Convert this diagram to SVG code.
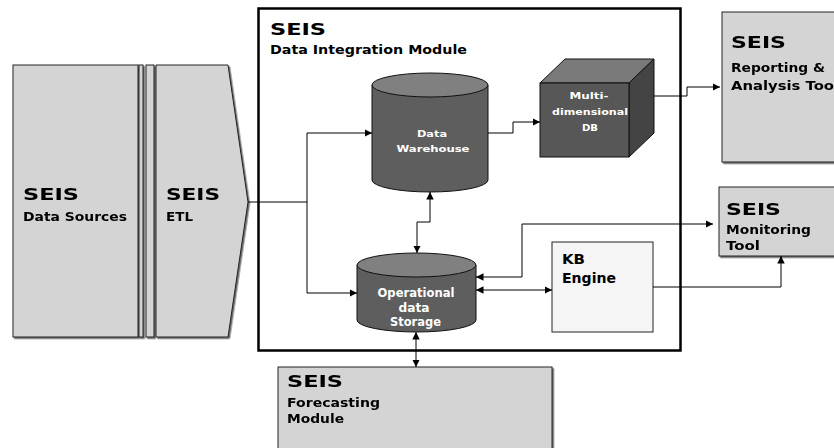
<svg xmlns="http://www.w3.org/2000/svg" width="834" height="448" viewBox="0 0 834 448">
  <defs>
    <marker id="arr" viewBox="0 0 10 10" refX="10" refY="5" markerWidth="7.5" markerHeight="7.5" markerUnits="userSpaceOnUse" orient="auto-start-reverse">
      <path d="M0,0 L10,5 L0,10 z" fill="#000"/>
    </marker>
    <filter id="shadow" x="-5%" y="-5%" width="115%" height="115%">
      <feDropShadow dx="1.5" dy="1.5" stdDeviation="0.6" flood-color="#444" flood-opacity="0.8"/>
    </filter>
  </defs>
  <style>
    text { font-family: "DejaVu Sans", "Liberation Sans", sans-serif; font-weight: bold; }
    .panel { fill: #d4d4d4; stroke: #222; stroke-width: 1; }
    .t-big { font-size: 16px; fill: #000; }
    .t-sub { font-size: 12px; fill: #000; }
    .t-kb { font-size: 14px; fill: #000; }
    .t-in { font-size: 9.5px; fill: #fff; text-anchor: middle; }
    .t-ods { font-size: 11.5px; fill: #fff; text-anchor: middle; }
    .cyl-body { fill: #5e5e5e; stroke: #111; stroke-width: 1; }
    .cyl-top { fill: #808080; stroke: #111; stroke-width: 1; }
    .link { fill: none; stroke: #000; stroke-width: 1; }
  </style>

  <!-- Data sources panel -->
  <g id="data-sources" filter="url(#shadow)">
    <rect class="panel" x="13" y="65" width="125" height="272"/>
    <text class="t-big" x="23" y="200" textLength="56" lengthAdjust="spacingAndGlyphs">SEIS</text>
    <text class="t-sub" x="23" y="221" textLength="104" lengthAdjust="spacingAndGlyphs">Data Sources</text>
  </g>

  <!-- Separator strips -->
  <g id="separator" filter="url(#shadow)">
    <rect class="panel" x="139" y="65" width="4" height="272"/>
    <rect class="panel" x="146" y="65" width="8" height="272"/>
  </g>

  <!-- ETL chevron -->
  <g id="etl" filter="url(#shadow)">
    <polygon class="panel" points="156,65 228,65 248,202 228,337 156,337"/>
    <text class="t-big" x="166" y="200" textLength="54" lengthAdjust="spacingAndGlyphs">SEIS</text>
    <text class="t-sub" x="166" y="221" textLength="27" lengthAdjust="spacingAndGlyphs">ETL</text>
  </g>

  <!-- Data integration module frame -->
  <g id="integration-module">
    <rect x="258.5" y="8.5" width="422" height="342" fill="#fff" stroke="#000" stroke-width="2.5"/>
    <text class="t-big" x="270" y="35" textLength="56" lengthAdjust="spacingAndGlyphs">SEIS</text>
    <text class="t-sub" x="270" y="54" textLength="197" lengthAdjust="spacingAndGlyphs">Data Integration Module</text>
  </g>

  <!-- Data warehouse cylinder -->
  <g id="data-warehouse">
    <path class="cyl-body" d="M372,85 L372,180 A58,12 0 0 0 488,180 L488,85 Z"/>
    <ellipse class="cyl-top" cx="430" cy="85" rx="58" ry="12"/>
    <text class="t-in" x="432" y="137" textLength="30" lengthAdjust="spacingAndGlyphs">Data</text>
    <text class="t-in" x="433" y="152" textLength="73" lengthAdjust="spacingAndGlyphs">Warehouse</text>
  </g>

  <!-- Multidimensional DB cube -->
  <g id="multidim-db">
    <polygon points="540,83 565,59 654,59 629,83" fill="#7a7a7a" stroke="#111" stroke-width="1"/>
    <polygon points="629,83 654,59 654,133 629,157" fill="#444" stroke="#111" stroke-width="1"/>
    <rect x="540" y="83" width="89" height="74" fill="#575757" stroke="#111" stroke-width="1"/>
    <text class="t-in" x="589" y="99" textLength="39" lengthAdjust="spacingAndGlyphs">Multi-</text>
    <text class="t-in" x="590" y="115" textLength="76" lengthAdjust="spacingAndGlyphs">dimensional</text>
    <text class="t-in" x="590" y="131" textLength="16" lengthAdjust="spacingAndGlyphs">DB</text>
  </g>

  <!-- Operational data storage cylinder -->
  <g id="ods">
    <path class="cyl-body" d="M357,265 L357,320 A59.5,12 0 0 0 476,320 L476,265 Z"/>
    <ellipse class="cyl-top" cx="416.5" cy="265" rx="59.5" ry="12"/>
    <text class="t-ods" x="416" y="297" textLength="77" lengthAdjust="spacingAndGlyphs">Operational</text>
    <text class="t-ods" x="414" y="312" textLength="31" lengthAdjust="spacingAndGlyphs">data</text>
    <text class="t-ods" x="415.5" y="326" textLength="51" lengthAdjust="spacingAndGlyphs">Storage</text>
  </g>

  <!-- KB engine -->
  <g id="kb-engine">
    <rect x="552" y="242" width="101" height="90" fill="#f5f5f5" stroke="#222" stroke-width="1"/>
    <text class="t-kb" x="562" y="264" textLength="23" lengthAdjust="spacingAndGlyphs">KB</text>
    <text class="t-kb" x="562" y="283" textLength="54" lengthAdjust="spacingAndGlyphs">Engine</text>
  </g>

  <!-- Reporting & analysis tool -->
  <g id="reporting" filter="url(#shadow)">
    <rect class="panel" x="722" y="12" width="120" height="150"/>
    <text class="t-big" x="731" y="48" textLength="55" lengthAdjust="spacingAndGlyphs">SEIS</text>
    <text class="t-sub" x="731" y="72" textLength="94" lengthAdjust="spacingAndGlyphs">Reporting &amp;</text>
    <text class="t-sub" x="731" y="90" textLength="103" lengthAdjust="spacingAndGlyphs">Analysis Too</text>
  </g>

  <!-- Monitoring tool -->
  <g id="monitoring" filter="url(#shadow)">
    <rect class="panel" x="719" y="187" width="120" height="69"/>
    <text class="t-big" x="726" y="215" textLength="55" lengthAdjust="spacingAndGlyphs">SEIS</text>
    <text class="t-sub" x="726" y="234" textLength="85" lengthAdjust="spacingAndGlyphs">Monitoring</text>
    <text class="t-sub" x="726" y="250" textLength="34" lengthAdjust="spacingAndGlyphs">Tool</text>
  </g>

  <!-- Forecasting module -->
  <g id="forecasting" filter="url(#shadow)">
    <rect class="panel" x="278" y="367" width="274" height="90"/>
    <text class="t-big" x="287" y="387" textLength="56" lengthAdjust="spacingAndGlyphs">SEIS</text>
    <text class="t-sub" x="287" y="407" textLength="93" lengthAdjust="spacingAndGlyphs">Forecasting</text>
    <text class="t-sub" x="287" y="423" textLength="57" lengthAdjust="spacingAndGlyphs">Module</text>
  </g>

  <!-- Connectors -->
  <g id="connectors">
    <path class="link" d="M248,202 L307,202 L307,133 L372,133" marker-end="url(#arr)"/>
    <path class="link" d="M307,202 L307,293 L357,293" marker-end="url(#arr)"/>
    <path class="link" d="M488,133 L513,133 L513,122 L540,122" marker-end="url(#arr)"/>
    <path class="link" d="M654,96 L687,96 L687,87 L720,87" marker-end="url(#arr)"/>
    <path class="link" d="M430,192 L430,222 L417,222 L417,253" marker-start="url(#arr)" marker-end="url(#arr)"/>
    <path class="link" d="M476,290 L552,290" marker-start="url(#arr)" marker-end="url(#arr)"/>
    <path class="link" d="M476,277 L522,277 L522,224 L713,224" marker-start="url(#arr)" marker-end="url(#arr)"/>
    <path class="link" d="M653,287 L781,287 L781,256" marker-end="url(#arr)"/>
    <path class="link" d="M416,332 L416,367" marker-start="url(#arr)" marker-end="url(#arr)"/>
  </g>
</svg>
